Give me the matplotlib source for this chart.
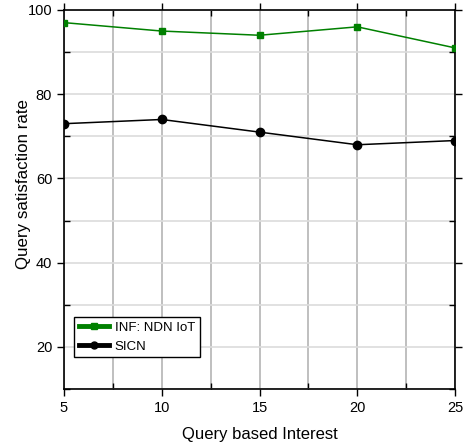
import matplotlib
matplotlib.use("Agg")
import matplotlib.pyplot as plt
from matplotlib.ticker import MultipleLocator
from matplotlib.lines import Line2D

plt.rcParams['font.family'] = ['Liberation Sans', 'DejaVu Sans']

# --- Data ---
interest = [5, 10, 15, 20, 25]
inf_ndn_iot = [97, 95, 94, 96, 91]
sicn = [73, 74, 71, 68, 69]

fig = plt.figure(figsize=(4.65, 4.48), dpi=100)
ax = fig.add_axes([0.1376, 0.1317, 0.841, 0.846])

ax.plot(interest, inf_ndn_iot, color='#008000', lw=1.1, marker='s', ms=5, zorder=3)
ax.plot(interest, sicn, color='black', lw=1.1, marker='o', ms=6, zorder=3)

ax.set_xlim(5, 25)
ax.set_ylim(10, 100)
ax.xaxis.set_major_locator(MultipleLocator(5))
ax.xaxis.set_minor_locator(MultipleLocator(2.5))
ax.yaxis.set_major_locator(MultipleLocator(20))
ax.yaxis.set_minor_locator(MultipleLocator(10))

ax.grid(axis='x', which='both', color='#b4b4b4', lw=1.2)
ax.grid(axis='y', which='both', color='#dcdcdc', lw=1.2)
ax.set_axisbelow(True)

ax.tick_params(which='major', direction='out', length=5, width=1, labelsize=10.5)
ax.tick_params(which='minor', direction='in', length=4, width=1)
ax.tick_params(which='both', top=True, right=True)
for s in ax.spines.values():
    s.set_linewidth(1.2)

ax.set_xlabel('Query based Interest', fontsize=12, labelpad=9)
ax.set_ylabel('Query satisfaction rate', fontsize=12.2)
ax.yaxis.set_label_coords(-0.085, 0.54)

handles = [
    Line2D([], [], color='#008000', lw=3.5, marker='s', ms=5),
    Line2D([], [], color='black', lw=3.5, marker='o', ms=5),
]
ax.legend(handles, ['INF: NDN IoT', 'SICN'], loc='upper left',
          bbox_to_anchor=(0.0256, 0.19), fontsize=9.5, frameon=True,
          fancybox=False, edgecolor='black', framealpha=1,
          handlelength=2.3, handletextpad=0.45, borderpad=0.35, labelspacing=0.5,
          borderaxespad=0)

fig.savefig('out.png', dpi=100)
